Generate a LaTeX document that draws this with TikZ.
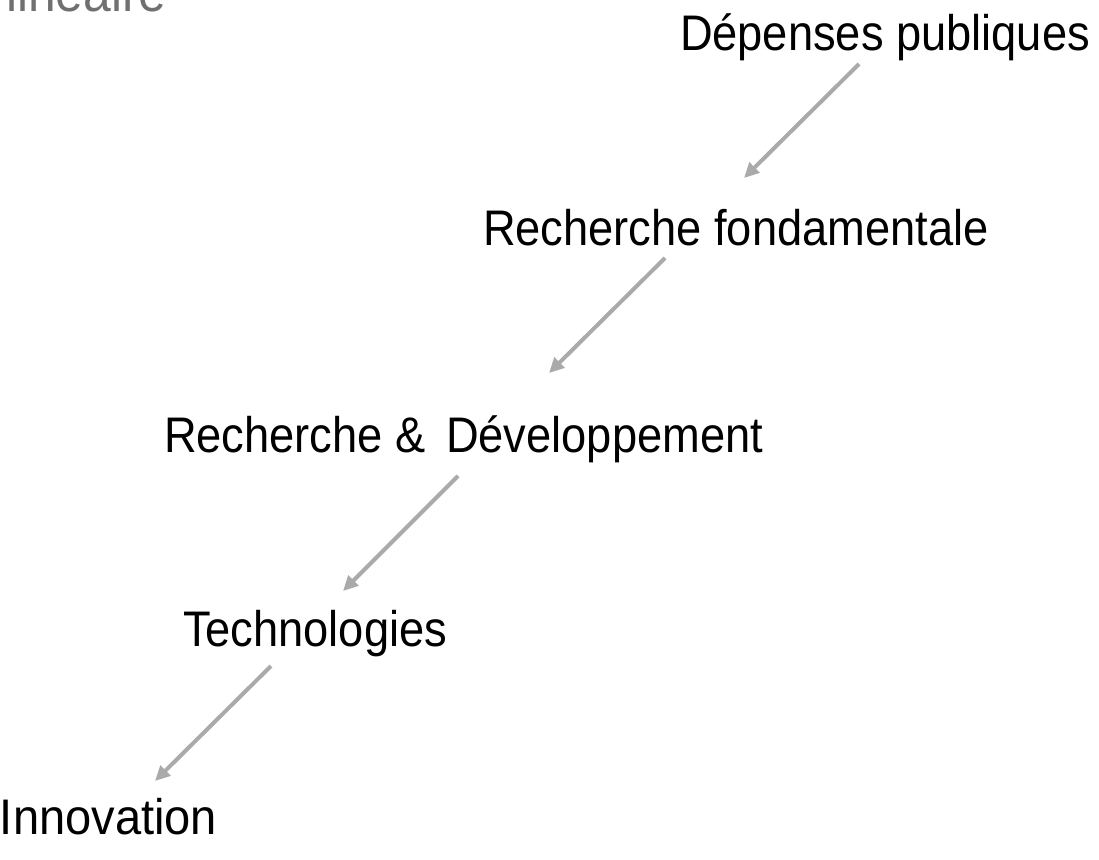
\documentclass[tikz,border=0pt]{standalone}
\usepackage{fontspec}
\setmainfont{Liberation Sans}[FakeStretch=0.905]
\usetikzlibrary{arrows.meta}
\definecolor{arrgray}{RGB}{170,170,170}
\definecolor{titlegray}{RGB}{112,112,112}
\tikzset{
  lbl/.style={anchor=base west, inner sep=0pt, outer sep=0pt, font=\fontsize{50}{60}\selectfont, text=black},
  arr/.style={draw=arrgray, line width=4pt, -{Triangle[length=15pt,width=14pt]}}
}
\begin{document}
\begin{tikzpicture}[x=1pt,y=-1pt]
\useasboundingbox (0,0) rectangle (1099,859);
\clip (0,0) rectangle (1099,859);
\node[anchor=base west, inner sep=0pt, font=\fontsize{55}{66}\selectfont, text=titlegray] (title) at (6,12) {linéaire};
\node[lbl] (dep) at (680,51) {Dépenses publiques};
\node[lbl] (rf) at (483,245) {Recherche fondamentale};
\node[lbl] (rd) at (164,452) {Recherche \&\hspace{8pt} Développement};
\node[lbl] (tech) at (183,646) {Technologies};
\node[lbl, xscale=1.04, transform shape] (inno) at (0,834) {Innovation};
\coordinate (a1s) at (859,64);
\coordinate (a1e) at (744,178);
\coordinate (a2s) at (665,258);
\coordinate (a2e) at (549,373);
\coordinate (a3s) at (458,476);
\coordinate (a3e) at (343,591);
\coordinate (a4s) at (271,666);
\coordinate (a4e) at (155,781);
\draw[arr] (a1s) -- (a1e);
\draw[arr] (a2s) -- (a2e);
\draw[arr] (a3s) -- (a3e);
\draw[arr] (a4s) -- (a4e);
\end{tikzpicture}
\end{document}
